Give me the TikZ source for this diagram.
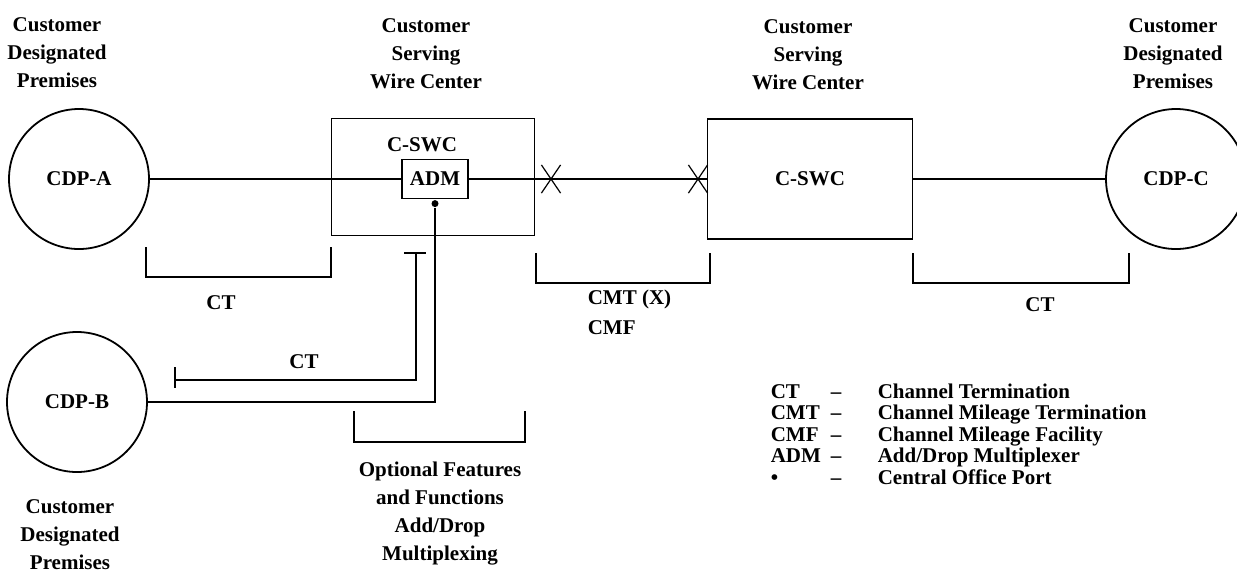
\documentclass[tikz,border=0pt]{standalone}
\usepackage{fontspec}
\setmainfont{Liberation Serif}
\usetikzlibrary{shapes.misc}
\tikzstyle{txt}=[font=\bfseries\fontsize{10.5}{14}\selectfont,inner sep=0pt]
\tikzstyle{hdr}=[txt,align=center]
\tikzstyle{site}=[txt,circle,draw,line width=0.9pt,minimum size=70pt]
\tikzstyle{office}=[txt,rectangle,draw,line width=0.8pt]
\tikzstyle{xmark}=[cross out,draw,line width=0.6pt,minimum width=9pt,minimum height=13.5pt,inner sep=0pt]

\begin{document}
\begin{tikzpicture}[x=0.5pt,y=-0.5pt,line width=0.8pt]
    \useasboundingbox (0,0) rectangle (1237,580);
    % headings
    \node[hdr] (hda) at (57,53)   {Customer\\Designated\\Premises};
    \node[hdr] (hdl) at (426,54)  {Customer\\Serving\\Wire Center};
    \node[hdr] (hdr) at (808,55)  {Customer\\Serving\\Wire Center};
    \node[hdr] (hdc) at (1173,54) {Customer\\Designated\\Premises};
    \node[hdr] (hdb) at (70,535)  {Customer\\Designated\\Premises};

    % premises and wire centers
    \node[site] (cdpa) at (79,179)   {CDP-A};
    \node[site] (cdpb) at (77,402)   {CDP-B};
    \node[site] (cdpc) at (1176,179) {CDP-C};
    \node[office,minimum width=101.5pt,minimum height=58.5pt] (swcl) at (433,177) {};
    \node[txt] (swcllbl) at (422,145) {C-SWC};
    \node[office,minimum width=102.5pt,minimum height=60pt] (swcr) at (810,179) {C-SWC};
    \node[office,minimum width=33pt,minimum height=19.5pt] (adm) at (435,179) {ADM};
    \node[circle,fill,inner sep=0pt,minimum size=3.5pt,anchor=north] (port) at (adm.south) {};
    \node[xmark] (x1) at (551,179) {};
    \node[xmark] (x2) at (698,179) {};

    % circuits
    \draw (cdpa) -- (adm);
    \draw (adm) -- (x1.center) -- (x2.center) -- (swcr);
    \draw (swcr) -- (cdpc);
    \draw (port) |- (cdpb);

    % brackets
    \draw (146,247) |- (331,277) -- (331,247);
    \draw (536,253) |- (710,283) -- (710,253);
    \draw (913,253) |- (1129,283) -- (1129,253);
    \draw (404,253) -- (426,253);
    \draw (416,253) |- (175,380);
    \draw (175,367) -- (175,388);
    \draw (354,411) |- (525,442) -- (525,411);

    \node[txt] (cta) at (221,303)  {CT};
    \node[txt] (ctb) at (304,362)  {CT};
    \node[txt] (ctc) at (1040,305) {CT};
    \node[txt,align=left,anchor=west] (cmt) at (587,312) {CMT (X)\\[1pt]CMF};
    \node[hdr] (opt) at (440,514) {Optional Features\\and Functions\\Add/Drop\\Multiplexing};

    % legend
    \foreach \ab/\desc [count=\i] in {CT/Channel Termination,
        CMT/Channel Mileage Termination, CMF/Channel Mileage Facility,
        ADM/{Add/Drop Multiplexer}, \textbullet/Central Office Port}
    {
        \node[txt,anchor=base west] (ab\i) at (770,376.5+21.5*\i) {\ab};
        \node[txt,anchor=base] (dash\i) at (836,376.5+21.5*\i) {--};
        \node[txt,anchor=base west] (desc\i) at (877,376.5+21.5*\i) {\desc};
    }
\end{tikzpicture}
\end{document}
